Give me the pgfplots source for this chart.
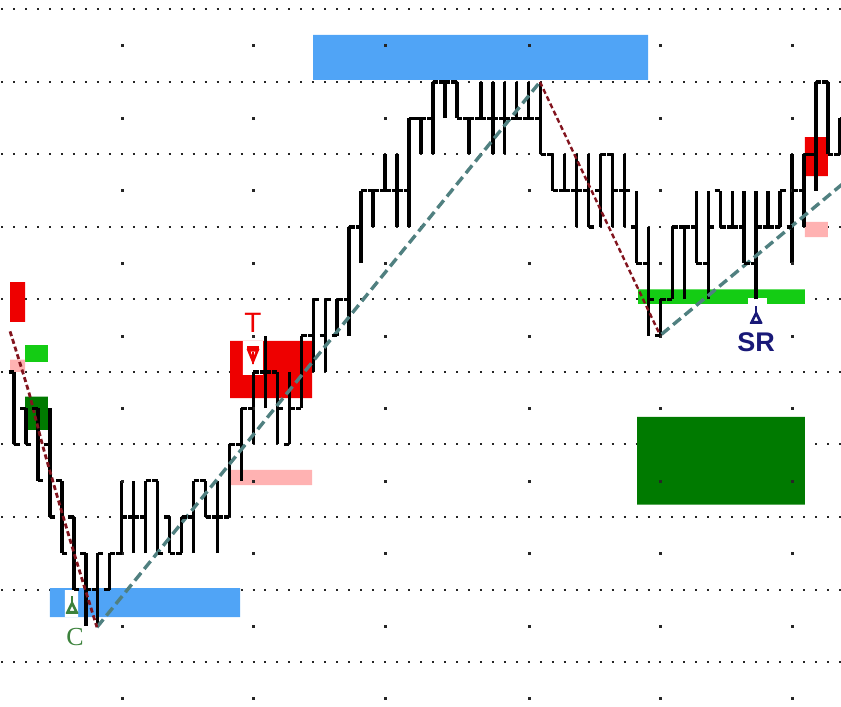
\documentclass[border=0pt]{standalone}
\usepackage{pgfplots}
\pgfplotsset{compat=1.18}
\usepackage{pgfplotstable}
\usepackage{fontspec}
\setmainfont{Liberation Sans}
\newfontfamily\seriff{Liberation Serif}
\definecolor{cblue}{RGB}{80,164,246}
\definecolor{cred}{RGB}{238,0,0}
\definecolor{cpink}{RGB}{255,178,178}
\definecolor{cgreen}{RGB}{20,204,20}
\definecolor{cdgreen}{RGB}{0,122,0}
\definecolor{cmaroon}{RGB}{130,20,30}
\definecolor{cteal}{RGB}{80,128,128}
\definecolor{cnavy}{RGB}{25,25,120}
\definecolor{ctxtgreen}{RGB}{60,130,60}
\pgfdeclareplotmark{tickL}{\pgfsetlinewidth{3.2pt}\pgfsetbuttcap\pgfpathmoveto{\pgfqpoint{-5.5pt}{0pt}}\pgfpathlineto{\pgfqpoint{0pt}{0pt}}\pgfusepathqstroke}
\pgfdeclareplotmark{tickR}{\pgfsetlinewidth{3.2pt}\pgfsetbuttcap\pgfpathmoveto{\pgfqpoint{0pt}{0pt}}\pgfpathlineto{\pgfqpoint{5.5pt}{0pt}}\pgfusepathqstroke}
\pgfdeclareplotmark{sigup}{%
  \pgfsetlinewidth{2.6pt}%
  \pgfpathmoveto{\pgfqpoint{0pt}{10pt}}\pgfpathlineto{\pgfqpoint{0pt}{3pt}}\pgfusepathqstroke
  \pgfpathmoveto{\pgfqpoint{0pt}{3pt}}\pgfpathlineto{\pgfqpoint{4.5pt}{-6pt}}\pgfpathlineto{\pgfqpoint{-4.5pt}{-6pt}}\pgfpathclose\pgfusepathqstroke
  \pgfpathmoveto{\pgfqpoint{-6pt}{-7pt}}\pgfpathlineto{\pgfqpoint{6pt}{-7pt}}\pgfusepathqstroke}
\pgfdeclareplotmark{sigdn}{%
  \pgfsetlinewidth{2.6pt}%
  \pgfpathmoveto{\pgfqpoint{-6pt}{8pt}}\pgfpathlineto{\pgfqpoint{6pt}{8pt}}\pgfusepathqstroke
  \pgfpathmoveto{\pgfqpoint{0pt}{-6pt}}\pgfpathlineto{\pgfqpoint{4.5pt}{5pt}}\pgfpathlineto{\pgfqpoint{-4.5pt}{5pt}}\pgfpathclose\pgfusepathqstroke
  \pgfpathmoveto{\pgfqpoint{0pt}{3pt}}\pgfpathlineto{\pgfqpoint{0pt}{-9pt}}\pgfusepathqstroke}
\newcommand{\rect}[5]{\addplot[fill=#5, draw=none, forget plot] coordinates {(#1,#3) (#2,#3) (#2,#4) (#1,#4) (#1,#3)};}

\pgfplotstableread{
i lo hi o c
0 4 5 5 4
1 4 4.5 4.5 4
2 3.5 4.5 4.5 3.5
3 3 4.5 4 3
4 2.5 3.5 3.5 2.5
5 2 3 3 2
6 1.5 2.5 2.5 2
7 1.5 2.5 2 2.5
8 2 2.5 2 2.5
9 2.5 3.5 2.5 3
10 2.5 3.5 3 3
11 2.5 3.5 3 3.5
12 2.5 3.5 3.5 2.5
13 2.5 3 3 2.5
14 2.5 3 2.5 3
15 2.5 3.5 3 3.5
16 3 3.5 3.5 3
17 2.5 3.5 3 3
18 3 4 3 4
19 3.5 4.5 4 4.5
20 4 5 4.5 5
21 4.5 5.5 5 5
22 4 5 5 4.5
23 4 5 4 4.5
24 4.5 5.5 4.5 5.5
25 5 6 5.5 6
26 5 6 5.5 6
27 5.5 6 5.5 6
28 5.5 7 6 7
29 6.5 7.5 7 7.5
30 7 7.5 7.5 7.5
31 7.5 8 7.5 7.5
32 7 8 7.5 7.5
33 7 8.5 7.5 8.5
34 8 8.5 8.5 8.5
35 8 9 8.5 9
36 8.5 9 9 9
37 8.5 9 9 8.5
38 8 8.5 8.5 8.5
39 8.5 9 8.5 8.5
40 8 9 8.5 8.5
41 8 9 8.5 8.5
42 8.5 9 8.5 8.5
43 8.5 9 8.5 8.5
44 8 9 8.5 8
45 7.5 8 8 7.5
46 7.5 8 7.5 7.5
47 7 8 7.5 7.5
48 7 8 7.5 7
49 7 8 7.5 8
50 7 8 8 7.5
51 7 8 7.5 7.5
52 6.5 7.5 7 6.5
53 5.5 7 6.5 6
54 5.5 6 5.5 6
55 6 7 6 7
56 6 7 7 7
57 6.5 7.5 7 6.5
58 6 7.5 6.5 7
59 7 7.5 7.5 7
60 7 7.5 7 7
61 6.5 7.5 7 6.5
62 6 7.5 6.5 7
63 7 7.5 7 7
64 7 7.5 7 7.5
65 6.5 8 7 7.5
66 7 8 7.5 8
67 7.5 9 8 9
68 8 9 9 8
69 8 8.5 8 8.5
}\bars

\begin{document}
\begin{tikzpicture}
\begin{axis}[
  name=ax,
  width=841pt, height=706pt, scale only axis,
  xmin=-1.17, xmax=69.09, ymin=0.393, ymax=10.13,
  axis line style={draw=none},
  xtick=\empty, ytick={1,...,10}, yticklabels={}, major tick length=0pt,
  ymajorgrids,
  grid style={black!85, line width=2pt, dash pattern=on 2pt off 9.97pt, dash phase=10.84pt},
  clip=true,
]
% sparse half-level dots
\pgfplotsinvokeforeach{0.5,1.5,2.5,3.5,4.5,5.5,6.5,7.5,8.5,9.5}{
  \addplot[only marks, mark=square*, mark size=1pt, black!85, forget plot] coordinates {(9,#1) (20,#1) (31,#1) (43,#1) (54,#1) (65,#1)};
}
% zones
\rect{24.98}{52.97}{9.03}{9.65}{cblue}
\rect{3.0}{18.9}{1.62}{2.02}{cblue}
\rect{4.26}{5.35}{1.62}{1.99}{white}
\rect{18.05}{24.9}{4.64}{5.43}{cred}
\rect{19.13}{20.8}{4.96}{5.43}{white}
\rect{18.05}{24.9}{3.44}{3.65}{cpink}
\rect{52.13}{66.08}{5.94}{6.14}{cgreen}
\rect{61.32}{62.9}{5.92}{6.02}{white}
\rect{52.05}{66.08}{3.17}{4.38}{cdgreen}
\rect{66.08}{68.0}{7.70}{8.24}{cred}
\rect{66.08}{68.0}{6.86}{7.07}{cpink}
\rect{-0.33}{0.92}{5.69}{6.24}{cred}
\rect{0.92}{2.84}{5.14}{5.37}{cgreen}
\rect{0.92}{2.84}{4.20}{4.66}{cdgreen}
\rect{-0.33}{0.92}{5.00}{5.17}{cpink}
% bars (low to high)
\addplot[black, line width=3.4pt, forget plot,
  quiver={u=0, v=\thisrow{hi}-\thisrow{lo}, scale arrows=1}]
  table[x=i, y=lo] {\bars};
\addplot[black, only marks, mark=tickL, forget plot] table[x=i, y=o] {\bars};
\addplot[black, only marks, mark=tickR, forget plot] table[x=i, y=c] {\bars};
% trend lines
\addplot[cteal, line width=3.4pt, dash pattern=on 10pt off 5pt, forget plot] coordinates {(6.93,1.48) (43.94,9.0)};
\addplot[cteal, line width=3.4pt, dash pattern=on 10pt off 5pt, forget plot] coordinates {(54.1,5.52) (70,7.70)};
\addplot[cmaroon, line width=2.8pt, dash pattern=on 5pt off 3pt, smooth, forget plot] coordinates {(-0.33,5.56) (0.5,5.12) (1.34,4.66) (2.42,3.97) (4.01,3.06) (5.26,2.37) (6.93,1.48)};
\addplot[cmaroon, line width=2.4pt, dash pattern=on 5pt off 3pt, forget plot] coordinates {(43.94,9.0) (53.97,5.51)};
% signals
\addplot[ctxtgreen, only marks, mark=sigup, forget plot] coordinates {(4.85,1.77)};
\addplot[cnavy, only marks, mark=sigup, forget plot] coordinates {(62.0,5.77)};
\addplot[cred, only marks, mark=sigdn, forget plot] coordinates {(19.97,5.23)};
% labels
\node[text=ctxtgreen, inner sep=0pt, font={\seriff\fontsize{26}{28}\selectfont}] at (axis cs:5.1,1.34) {C};
\node[text=cred, inner sep=0pt, font={\fontsize{28}{30}\selectfont}] at (axis cs:19.97,5.68) {T};
\node[text=cnavy, inner sep=0pt, font={\bfseries\fontsize{27}{30}\selectfont}] at (axis cs:62.0,5.41) {SR};
\end{axis}
\pgfresetboundingbox
\path[use as bounding box] (ax.south west) rectangle (ax.north east);
\end{tikzpicture}
\end{document}
